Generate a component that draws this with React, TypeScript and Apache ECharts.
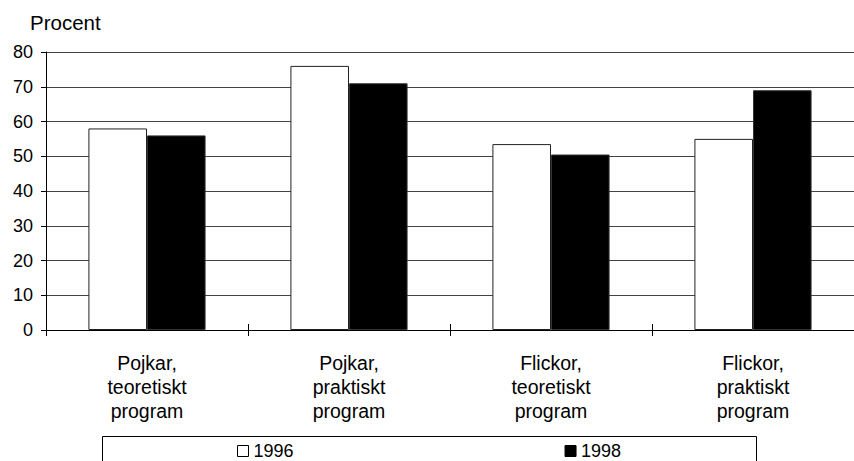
import React, { useEffect, useRef } from "react";
import * as echarts from "echarts";

const categories = [
  "Pojkar,\nteoretiskt\nprogram",
  "Pojkar,\npraktiskt\nprogram",
  "Flickor,\nteoretiskt\nprogram",
  "Flickor,\npraktiskt\nprogram",
];
const values1996 = [58, 76, 53.5, 55];
const values1998 = [56, 71, 50.5, 69];
const yTicks = { min: 0, max: 80, interval: 10 };
const yTitle = "Procent";
const seriesNames = ["1996", "1998"];

const FONT = "'Liberation Sans', Arial, sans-serif";

export default function App() {
  const ref = useRef<HTMLDivElement>(null);
  useEffect(() => {
    document.body.style.margin = "0";
    if (!ref.current) return;
    const chart = echarts.init(ref.current, undefined, { renderer: "svg" });
    chart.setOption({
      animation: false,
      backgroundColor: "#ffffff",
      textStyle: { fontFamily: FONT, color: "#000" },
      grid: { left: 46, top: 52, bottom: 131, right: -6, containLabel: false },
      graphic: [
        {
          type: "text",
          left: 30,
          top: 12,
          style: { text: yTitle, font: `20.5px ${FONT}`, fill: "#000" },
        },
        {
          type: "rect",
          shape: { x: 102.5, y: 436.5, width: 654, height: 40 },
          style: { fill: "none", stroke: "#000", lineWidth: 1 },
          silent: true,
        },
      ],
      legend: {
        left: 237,
        top: 442,
        padding: 0,
        itemGap: 271,
        itemWidth: 11,
        itemHeight: 11,
        icon: "rect",
        textStyle: { fontSize: 18, fontFamily: FONT, color: "#000", lineHeight: 18 },
        data: [
          { name: seriesNames[0], itemStyle: { color: "#fff", borderColor: "#000", borderWidth: 1 } },
          { name: seriesNames[1], itemStyle: { color: "#000", borderColor: "#000", borderWidth: 1 } },
        ],
      },
      xAxis: [
        {
          type: "category",
          data: categories,
          axisLine: { show: true, lineStyle: { color: "#000", width: 1 } },
          axisTick: { show: true, length: 6, lineStyle: { color: "#000" } },
          axisLabel: {
            fontSize: 19.5,
            fontFamily: FONT,
            color: "#000",
            lineHeight: 24,
            margin: 21,
            interval: 0,
          },
          splitLine: { show: false },
        },
        {
          type: "category",
          data: categories,
          position: "bottom",
          axisLine: { show: false },
          axisTick: { show: true, inside: true, length: 6, lineStyle: { color: "#000" } },
          axisLabel: { show: false },
          splitLine: { show: false },
        },
      ],
      yAxis: {
        type: "value",
        min: yTicks.min,
        max: yTicks.max,
        interval: yTicks.interval,
        axisLine: { show: true, lineStyle: { color: "#000", width: 1 } },
        axisTick: { show: true, length: 5, lineStyle: { color: "#000" } },
        axisLabel: { fontSize: 18, fontFamily: FONT, color: "#000", margin: 13 },
        splitLine: { show: true, lineStyle: { color: "#444", width: 1 } },
      },
      series: [
        {
          name: seriesNames[0],
          type: "bar",
          data: values1996,
          barGap: "0%",
          barCategoryGap: "42%",
          itemStyle: { color: "#fff", borderColor: "#222", borderWidth: 1 },
        },
        {
          name: seriesNames[1],
          type: "bar",
          data: values1998,
          barGap: "0%",
          barCategoryGap: "42%",
          itemStyle: { color: "#000", borderColor: "#333", borderWidth: 1 },
        },
      ],
    });
    return () => chart.dispose();
  }, []);
  return <div ref={ref} style={{ width: 854, height: 461 }} />;
}
